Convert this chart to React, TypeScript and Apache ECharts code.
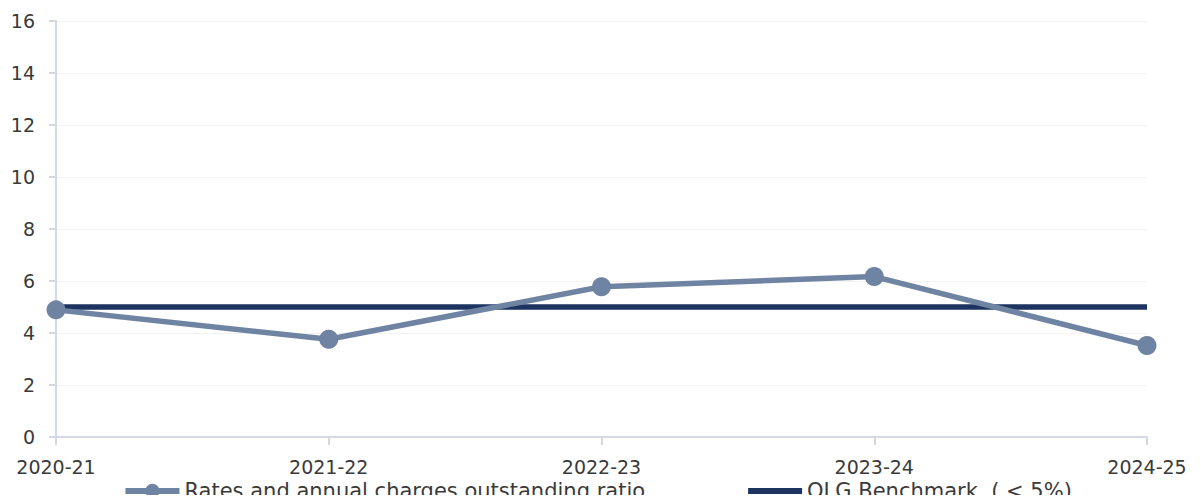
import React, { useEffect, useRef } from "react";
import * as echarts from "echarts";

// Financial years on the category axis
const years = ["2020-21", "2021-22", "2022-23", "2023-24", "2024-25"];

// Outstanding rates and annual charges, % of collectible
const outstandingRatio = [4.89, 3.76, 5.78, 6.17, 3.52];

// OLG benchmark threshold (< 5%)
const benchmark = [5, 5, 5, 5, 5];

const FONT = "'DejaVu Sans', sans-serif";
const TEXT = "#3a3a3a";
const AXIS = "#d3d8e2";
const SERIES_COLOR = "#6f84a3";
const BENCH_COLOR = "#1d3461";

export default function App() {
  const ref = useRef<HTMLDivElement>(null);

  useEffect(() => {
    if (!ref.current) return;
    const chart = echarts.init(ref.current, undefined, { renderer: "svg" });
    chart.setOption({
      animation: false,
      textStyle: { fontFamily: FONT, color: TEXT },
      grid: { left: 56, right: 54, top: 21, bottom: 66, containLabel: false },
      legend: {
        top: 475,
        left: "center",
        itemWidth: 54,
        itemHeight: 18,
        itemGap: 100,
        lineStyle: { width: 6 },
        textStyle: { fontFamily: FONT, fontSize: 21, color: TEXT, lineHeight: 22 },
        data: [
          { name: "Rates and annual charges outstanding ratio" },
          {
            name: "OLG Benchmark  ( < 5%).",
            itemStyle: { color: "transparent", borderWidth: 0 },
            lineStyle: { color: BENCH_COLOR, width: 6 },
          },
        ],
      },
      xAxis: {
        type: "category",
        data: years,
        boundaryGap: false,
        axisLine: { lineStyle: { color: AXIS, width: 2 } },
        axisTick: { show: true, length: 8, lineStyle: { color: AXIS, width: 2 } },
        axisLabel: { fontFamily: FONT, fontSize: 19, color: TEXT, margin: 20 },
        splitLine: { show: false },
      },
      yAxis: {
        type: "value",
        min: 0,
        max: 16,
        interval: 2,
        axisLine: { show: true, lineStyle: { color: AXIS, width: 2 } },
        axisTick: { show: true, length: 7, lineStyle: { color: AXIS, width: 2 } },
        axisLabel: { fontFamily: FONT, fontSize: 19, color: TEXT, margin: 21 },
        splitLine: { show: true, lineStyle: { color: "#f3f3f3", width: 1 } },
      },
      series: [
        {
          name: "Rates and annual charges outstanding ratio",
          type: "line",
          data: outstandingRatio,
          symbol: "circle",
          symbolSize: 19,
          lineStyle: { color: SERIES_COLOR, width: 5.5 },
          itemStyle: { color: SERIES_COLOR },
          z: 3,
        },
        {
          name: "OLG Benchmark  ( < 5%).",
          type: "line",
          data: benchmark,
          symbol: "none",
          lineStyle: { color: BENCH_COLOR, width: 5.5 },
          itemStyle: { color: BENCH_COLOR },
          z: 2,
        },
      ],
    });
    return () => chart.dispose();
  }, []);

  return <div ref={ref} style={{ width: 1201, height: 503, margin: -8 }} />;
}
